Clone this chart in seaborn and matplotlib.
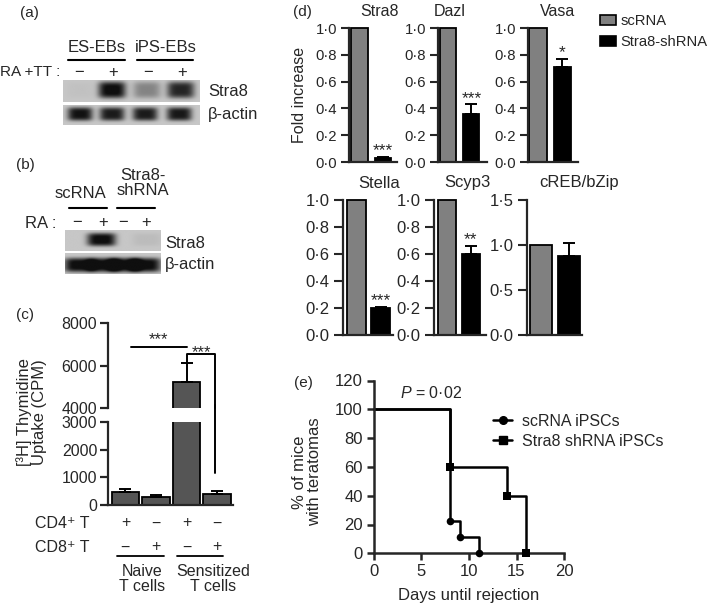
import numpy as np
import pandas as pd
import matplotlib
matplotlib.use('Agg')
import matplotlib.pyplot as plt
import seaborn as sns
from matplotlib.lines import Line2D
from matplotlib.patches import Patch
from matplotlib.ticker import FuncFormatter
from matplotlib.transforms import blended_transform_factory

# ---- data ----
# (a) / (b) western blot band strength, 0 = no band, 1 = strongest
blot_a_stra8 = [0.03, 1.0, 0.35, 0.85]
blot_a_actin = [0.95, 0.9, 0.9, 0.92]
blot_b_stra8 = [0.0, 1.0, 0.0, 0.06]
blot_b_actin = [1.0, 1.0, 1.0, 1.0]

# (c) thymidine uptake
c_groups = ['naive_cd4', 'naive_cd8', 'sens_cd4', 'sens_cd8']
c_cd4 = ['+', '−', '+', '−']
c_cd8 = ['−', '+', '−', '+']
c_mean = [470, 300, 5210, 410]
c_err = [95, 70, 890, 95]

# (d) qPCR fold increase
genes = ['Stra8', 'Dazl', 'Vasa', 'Stella', 'Scyp3', 'cREB/bZip']
sc_fold = [1.0, 1.0, 1.0, 1.0, 1.0, 1.0]
sh_fold = [0.03, 0.36, 0.71, 0.20, 0.60, 0.88]
sh_err = [0.006, 0.07, 0.06, 0.01, 0.06, 0.14]
sig = ['***', '***', '*', '***', '**', '']

# (e) teratoma survival
sc_days = [0, 8, 9, 11]
sc_pct = [100, 22.2, 11.1, 0]
sh_days = [0, 8, 14, 16]
sh_pct = [100, 60, 40, 0]

sns.set_style('ticks')
plt.rcParams['font.family'] = ['Liberation Sans', 'DejaVu Sans']
plt.rcParams['mathtext.fontset'] = 'custom'
plt.rcParams['mathtext.rm'] = 'Liberation Sans'
plt.rcParams['mathtext.it'] = 'Liberation Sans:italic'

W, H = 709, 606
fig = plt.figure(figsize=(W / 100, H / 100), dpi=100)


def box(x0, y0, x1, y1):
    return fig.add_axes([x0 / W, 1 - y1 / H, (x1 - x0) / W, (y1 - y0) / H])


def ftext(x, y, s, **kw):
    kw.setdefault('fontsize', 11)
    kw.setdefault('va', 'center')
    fig.text(x / W, 1 - y / H, s, **kw)


def fline(x0, x1, y, lw=1.5):
    fig.add_artist(Line2D([x0 / W, x1 / W], [1 - y / H, 1 - y / H], color='k', lw=lw))


def blot(ax, lanes, inten, bw, bh, cy=0.5):
    xs = np.linspace(0, 1, 300)
    ys = np.linspace(0, 1, 60)
    X, Y = np.meshgrid(xs, ys)
    img = np.full_like(X, 0.78)
    for cx, v in zip(lanes, inten):
        img -= v * 0.75 * np.exp(-((X - cx) / bw) ** 4 - ((Y - cy) / bh) ** 4)
    ax.imshow(np.clip(img, 0.06, 1), cmap='gray', vmin=0, vmax=1, aspect='auto',
              extent=(0, 1, 1, 0), interpolation='bilinear')
    ax.axis('off')


dot = FuncFormatter(lambda v, p: f'{v:.1f}'.replace('.', '·'))

# ---------------- (a) ----------------
ftext(29, 13, '(a)', ha='center')
ftext(97, 47, 'ES-EBs', ha='center', fontsize=12)
ftext(166, 47, 'iPS-EBs', ha='center', fontsize=12)
fline(68, 125, 60)
fline(137, 193, 60)
ftext(0, 72, 'RA +TT :', ha='left', fontsize=11)
for x, s in zip([79, 113, 148, 182], ['−', '+', '−', '+']):
    ftext(x, 72, s, ha='center', fontsize=12)
blot(box(63, 80, 200, 102), [0.124, 0.358, 0.613, 0.861], blot_a_stra8, 0.1, 0.38, 0.45)
blot(box(63, 105, 200, 125), [0.124, 0.358, 0.60, 0.85], blot_a_actin, 0.092, 0.34, 0.45)
ftext(208, 91, 'Stra8', ha='left', fontsize=12)
ftext(208, 115, 'β-actin', ha='left', fontsize=12)

# ---------------- (b) ----------------
ftext(25, 165, '(b)', ha='center')
ftext(80, 193, 'scRNA', ha='center', fontsize=12)
ftext(143, 183, 'Stra8-\nshRNA', ha='center', fontsize=12, linespacing=1.0)
fline(69, 107, 208)
fline(117, 155, 208)
ftext(25, 223, 'RA :', ha='left', fontsize=12)
for x, s in zip([77, 103, 123, 146], ['−', '+', '−', '+']):
    ftext(x, 222, s, ha='center', fontsize=12)
blot(box(65, 230, 161, 251), [0.156, 0.38, 0.656, 0.854], blot_b_stra8, 0.15, 0.3, 0.48)
blot(box(65, 253, 161, 274), [0.15, 0.4, 0.62, 0.84], blot_b_actin, 0.16, 0.34, 0.57)
ftext(165, 244, 'Stra8', ha='left', fontsize=12)
ftext(165, 265, 'β-actin', ha='left', fontsize=12)

# ---------------- (c) ----------------
ftext(25, 315, '(c)', ha='center')
ax_up = box(108, 323, 233, 408)
ax_lo = box(108, 422, 233, 505)
for ax in (ax_up, ax_lo):
    sns.barplot(x=c_groups, y=c_mean, color='#555555', saturation=1, edgecolor='k',
                linewidth=1.3, width=0.9, errorbar=None, ax=ax)
    ax.errorbar(range(4), c_mean, yerr=[np.zeros(4), c_err], fmt='none', ecolor='k',
                elinewidth=1.4, capsize=4.5, capthick=1.4)
    ax.set_xlim(-0.57, 3.52)
    ax.set_xticks([])
    ax.set_xlabel('')
    sns.despine(ax=ax)
    for s in ax.spines.values():
        s.set_linewidth(1.6)
    ax.tick_params(axis='y', length=5.8, width=1.6, labelsize=11.5, pad=2)
ax_up.set_ylim(4000, 8000)
ax_up.set_yticks([4000, 6000, 8000])
ax_up.spines['bottom'].set_visible(False)
ax_lo.set_ylim(0, 3000)
ax_lo.set_yticks([0, 1000, 2000, 3000])
ftext(32, 412, '[³H] Thymidine\nUptake (CPM)', ha='center', rotation=90, linespacing=1.0,
      fontsize=12)

# significance
ax_up.plot([0.17, 2.0], [6850, 6850], color='k', lw=1.4, clip_on=False)
ax_up.annotate('***', (1.07, 6850), xytext=(0, 5.3), textcoords='offset points',
               ha='center', va='center', fontsize=12)
ax_up.plot([2.0, 2.0, 2.93, 2.93], [6150, 6530, 6530, 4000], color='k', lw=1.4, clip_on=False)
ax_up.annotate('***', (2.5, 6530), xytext=(0, 1.5), textcoords='offset points',
               ha='center', va='center', fontsize=12)
ax_lo.plot([2.93, 2.93], [3600, 1155], color='k', lw=1.4, clip_on=False)

tr = blended_transform_factory(ax_lo.transData, fig.transFigure)
for i in range(4):
    ax_lo.text(i, 1 - 523 / H, c_cd4[i], transform=tr, ha='center', va='center', fontsize=11.5)
    ax_lo.text(i, 1 - 547 / H, c_cd8[i], transform=tr, ha='center', va='center', fontsize=11.5)
ftext(35, 523, 'CD4⁺ T', ha='left', fontsize=11.5)
ftext(35, 547, 'CD8⁺ T', ha='left', fontsize=11.5)
for x0, x1 in [(-0.28, 1.26), (1.69, 3.2)]:
    ax_lo.plot([x0, x1], [1 - 556 / H] * 2, transform=tr, color='k', lw=1.3, clip_on=False)
ax_lo.text(0.55, 1 - 579 / H, 'Naive\nT cells', transform=tr, ha='center', va='center',
           fontsize=11.5, linespacing=1.05)
ax_lo.text(2.87, 1 - 579 / H, 'Sensitized\nT cells', transform=tr, ha='center', va='center',
           fontsize=11.5, linespacing=1.05)

# ---------------- (d) ----------------
ftext(302, 12, '(d)', ha='center')
d_boxes = [(349, 28, 397, 162), (438, 28, 487, 162), (528, 28, 578, 162),
           (343, 200, 393, 335), (434, 200, 486, 335), (527, 200, 582, 335)]
d_xlim = [(-0.44, 1.58), (-0.42, 1.66), (-0.41, 1.64), (-0.54, 1.5), (-0.52, 1.63), (-0.5, 1.48)]
d_width = [0.68, 0.68, 0.7, 0.76, 0.74, 0.78]
d_title = [(380, 12), (450, 12), (558, 12), (379, 183), (467, 183), (579, 183)]
for i, g in enumerate(genes):
    ax = box(*d_boxes[i])
    df = pd.DataFrame({'cond': ['scRNA', 'Stra8-shRNA'], 'fold': [sc_fold[i], sh_fold[i]]})
    sns.barplot(data=df, x='cond', y='fold', hue='cond', palette=['#808080', 'black'],
                saturation=1, edgecolor='k', linewidth=1.3, width=d_width[i],
                errorbar=None, legend=False, ax=ax)
    for p in ax.patches:
        p.set_clip_on(False)
    ax.errorbar([1], [sh_fold[i]], yerr=[[0], [sh_err[i]]], fmt='none', ecolor='k',
                elinewidth=1.4, capsize=4.5, capthick=1.4)
    if sig[i]:
        ax.annotate(sig[i], (1, sh_fold[i] + sh_err[i]), xytext=(0, 4.5),
                    textcoords='offset points', ha='center', va='center', fontsize=12.5)
    top = 1.5 if g == 'cREB/bZip' else 1.0
    ax.set_ylim(0, top)
    ax.set_yticks(np.arange(0, top + 0.01, 0.5 if top > 1 else 0.2))
    ax.yaxis.set_major_formatter(dot)
    ax.set_xlim(*d_xlim[i])
    ax.set_xticks([])
    ax.set_xlabel('')
    ax.set_ylabel('')
    sns.despine(ax=ax)
    for s in ax.spines.values():
        s.set_linewidth(1.6)
    row1 = i < 3
    ax.tick_params(axis='y', length=5.5 if row1 else 6.5, width=1.5,
                   labelsize=10.7 if row1 else 12, pad=3)
    ftext(d_title[i][0], d_title[i][1], g, ha='center', fontsize=11.5 if row1 else 12)
ftext(299, 95, 'Fold increase', ha='center', rotation=90, fontsize=11.5)
fig.legend(handles=[Patch(facecolor='#808080', edgecolor='k', lw=1.2),
                    Patch(facecolor='black', edgecolor='k', lw=1.2)],
           labels=['scRNA', 'Stra8-shRNA'], loc='upper left',
           bbox_to_anchor=(600 / W, 1 - 14 / H), frameon=False, fontsize=10.6,
           handlelength=1.1, handleheight=0.65, handletextpad=0.3, labelspacing=0.5,
           borderpad=0, borderaxespad=0)

# ---------------- (e) ----------------
ftext(303, 383, '(e)', ha='center')
ax_e = box(374, 380.5, 564, 553.3)
sns.lineplot(x=sc_days, y=sc_pct, drawstyle='steps-post', color='k', lw=1.8,
             estimator=None, sort=False, ax=ax_e, clip_on=False)
sns.lineplot(x=sh_days, y=sh_pct, drawstyle='steps-post', color='k', lw=1.8,
             estimator=None, sort=False, ax=ax_e, clip_on=False)
sns.scatterplot(x=sc_days[1:], y=sc_pct[1:], marker='o', s=30, color='k', linewidth=0,
                ax=ax_e, clip_on=False, zorder=3)
sns.scatterplot(x=sh_days[1:], y=sh_pct[1:], marker='s', s=38, color='k', linewidth=0,
                ax=ax_e, clip_on=False, zorder=3)
ax_e.set_xlim(0, 20)
ax_e.set_ylim(0, 120)
ax_e.set_xticks([0, 5, 10, 15, 20])
ax_e.set_yticks(range(0, 121, 20))
sns.despine(ax=ax_e)
for s in ax_e.spines.values():
    s.set_linewidth(1.8)
ax_e.tick_params(length=5, width=1.8, labelsize=12, pad=3)
ax_e.set_xlabel('Days until rejection', fontsize=12, labelpad=6)
ftext(307, 472, '% of mice\nwith teratomas', ha='center', rotation=90, linespacing=1.05,
      fontsize=12)
ftext(400, 393, r'$\mathit{P}$ = 0·02', ha='left', fontsize=11.5)
fig.legend(handles=[Line2D([], [], color='k', lw=1.8, marker='o', ms=5.5),
                    Line2D([], [], color='k', lw=1.8, marker='s', ms=6)],
           labels=['scRNA iPSCs', 'Stra8 shRNA iPSCs'], loc='upper left',
           bbox_to_anchor=(493 / W, 1 - 414 / H), frameon=False, fontsize=11.5,
           handlelength=1.2, handletextpad=0.6, labelspacing=0.3,
           borderpad=0, borderaxespad=0)

fig.savefig('out.png', dpi=100, facecolor='white')
